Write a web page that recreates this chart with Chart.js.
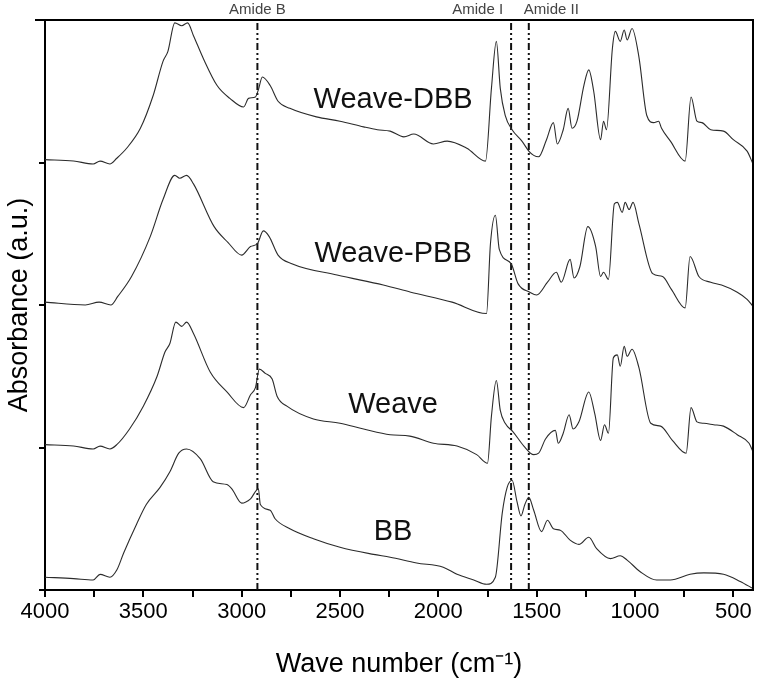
<!DOCTYPE html>
<html>
<head>
<meta charset="utf-8">
<script src="https://cdn.jsdelivr.net/npm/chart.js@4.4.1/dist/chart.umd.min.js"></script>
<style>
  html, body { margin: 0; padding: 0; background: #fff; }
</style>
</head>
<body>
<canvas id="ftir" width="757" height="685"></canvas>
<script>
// spectra (stacked, arbitrary units)
const dbbWave = [4000,3855,3755,3720,3670,3635,3585,3515,3450,3400,3375,3340,3305,3275,3245,3195,3125,3060,2990,2965,2930,2915,2895,2855,2815,2755,2620,2500,2380,2310,2245,2175,2125,2025,1955,1855,1760,1730,1705,1685,1660,1625,1575,1540,1515,1490,1450,1415,1395,1365,1340,1320,1295,1260,1235,1210,1175,1160,1145,1115,1100,1075,1055,1040,1015,980,940,905,880,865,820,745,715,685,660,615,550,500,430,400];
const dbbAbs = [3.02,3.01,2.99,3.01,2.99,3.03,3.10,3.24,3.47,3.71,3.78,3.98,3.96,3.98,3.89,3.73,3.54,3.45,3.39,3.45,3.46,3.51,3.60,3.54,3.43,3.38,3.32,3.29,3.25,3.23,3.22,3.18,3.20,3.13,3.15,3.10,3.01,3.52,3.85,3.52,3.33,3.23,3.15,3.08,3.05,3.04,3.16,3.28,3.13,3.23,3.38,3.24,3.29,3.54,3.65,3.50,3.16,3.29,3.23,3.80,3.92,3.85,3.93,3.86,3.94,3.74,3.33,3.28,3.29,3.24,3.15,3.01,3.46,3.29,3.28,3.23,3.22,3.16,3.08,2.99];

const pbbWave = [4000,3795,3725,3665,3630,3560,3465,3400,3340,3315,3280,3245,3140,3070,3000,2955,2920,2890,2860,2815,2745,2515,2280,2140,1930,1755,1735,1710,1690,1630,1595,1535,1500,1445,1400,1375,1330,1310,1280,1240,1200,1175,1160,1135,1105,1090,1065,1050,1030,1010,980,910,860,815,745,720,675,615,560,480,430,400];
const pbbAbs = [2.02,2.00,2.02,2.00,2.06,2.20,2.48,2.74,2.91,2.89,2.91,2.85,2.55,2.44,2.35,2.41,2.43,2.52,2.48,2.35,2.29,2.21,2.14,2.09,2.02,1.94,2.43,2.63,2.39,2.29,2.15,2.09,2.07,2.16,2.23,2.16,2.32,2.19,2.27,2.55,2.41,2.20,2.23,2.18,2.71,2.72,2.65,2.72,2.67,2.72,2.57,2.22,2.20,2.11,1.98,2.34,2.20,2.16,2.14,2.09,2.04,1.99];

const weaveWave = [4000,3855,3755,3720,3670,3635,3570,3500,3430,3390,3365,3335,3305,3280,3245,3160,3075,2990,2955,2930,2910,2880,2845,2820,2770,2635,2500,2380,2245,2145,2025,1905,1805,1750,1730,1705,1685,1660,1620,1565,1515,1490,1455,1405,1390,1365,1335,1315,1285,1235,1205,1175,1155,1135,1110,1090,1075,1055,1040,1015,980,920,870,810,740,715,685,650,600,550,480,420,400];
const weaveAbs = [1.02,1.01,0.99,1.01,0.99,1.02,1.13,1.29,1.50,1.67,1.73,1.88,1.85,1.88,1.80,1.53,1.39,1.28,1.37,1.42,1.55,1.52,1.48,1.36,1.29,1.20,1.17,1.13,1.09,1.08,1.03,1.01,0.95,0.89,1.22,1.47,1.26,1.17,1.11,1.01,0.95,0.96,1.06,1.12,1.03,1.10,1.23,1.13,1.18,1.39,1.24,1.05,1.16,1.10,1.63,1.65,1.57,1.71,1.64,1.69,1.56,1.17,1.15,1.05,0.96,1.28,1.18,1.17,1.16,1.15,1.09,1.03,0.97];

const bbWave = [4000,3855,3755,3720,3670,3635,3600,3535,3485,3415,3365,3320,3280,3210,3145,3075,3050,3000,2955,2915,2905,2855,2830,2755,2635,2500,2330,2245,2110,1975,1905,1820,1755,1710,1675,1650,1625,1600,1580,1560,1540,1515,1475,1445,1415,1380,1330,1285,1235,1195,1125,1075,1040,975,890,820,720,650,550,465,400];
const bbAbs = [0.09,0.08,0.07,0.11,0.09,0.14,0.26,0.46,0.60,0.72,0.83,0.96,0.99,0.92,0.76,0.74,0.71,0.61,0.64,0.71,0.60,0.56,0.50,0.43,0.36,0.30,0.25,0.23,0.19,0.16,0.11,0.07,0.04,0.09,0.54,0.72,0.77,0.62,0.52,0.60,0.65,0.56,0.41,0.49,0.43,0.42,0.35,0.32,0.37,0.29,0.22,0.24,0.21,0.13,0.07,0.07,0.11,0.12,0.11,0.06,0.01];

const seriesNames = ['Weave-DBB', 'Weave-PBB', 'Weave', 'BB'];
const amidePeaks = [2920, 1630, 1540];
const amideNames = ['Amide B', 'Amide I', 'Amide II'];
const xTickValues = [4000, 3750, 3500, 3250, 3000, 2750, 2500, 2250, 2000, 1750, 1500, 1250, 1000, 750, 500];

// where the series names sit (wave number, absorbance at baseline)
const nameX = 2230;
const nameY = [3.38, 2.30, 1.24, 0.35];

function pts(w, a) {
    return w.map((v, i) => ({ x: v, y: a[i] }));
}

const spectra = [[dbbWave, dbbAbs], [pbbWave, pbbAbs], [weaveWave, weaveAbs], [bbWave, bbAbs]];

const datasets = spectra.map((s, i) => ({
    label: seriesNames[i],
    data: pts(s[0], s[1]),
    borderColor: '#2b2b2b',
    borderWidth: 1.1,
    pointRadius: 0,
    cubicInterpolationMode: 'monotone'
}));

amidePeaks.forEach((p, i) => {
    datasets.push({
        label: amideNames[i],
        data: [{ x: p, y: 0 }, { x: p, y: 4 }],
        borderColor: '#111',
        borderWidth: 2,
        borderDash: [7, 3, 2, 3, 2, 3],
        pointRadius: 0
    });
});

const annotate = {
    id: 'annotate',
    afterDraw(chart) {
        const ctx = chart.ctx;
        const xs = chart.scales.x, ys = chart.scales.y;
        const a = chart.chartArea;
        ctx.save();
        // box top and right
        ctx.strokeStyle = '#000';
        ctx.lineWidth = 2;
        ctx.beginPath();
        ctx.moveTo(a.left - 10, a.top);
        ctx.lineTo(a.right, a.top);
        ctx.lineTo(a.right, a.bottom);
        ctx.stroke();

        // amide labels above the plot
        ctx.fillStyle = '#444';
        ctx.font = '15px "Liberation Sans", Arial, sans-serif';
        ctx.textBaseline = 'middle';
        const px = amidePeaks.map(p => xs.getPixelForValue(p));
        ctx.textAlign = 'center';
        ctx.fillText(amideNames[0], px[0], 10);
        ctx.textAlign = 'right';
        ctx.fillText(amideNames[1], px[1] - 8, 10);
        ctx.textAlign = 'left';
        ctx.fillText(amideNames[2], px[2] - 5, 10);

        // series names
        ctx.fillStyle = '#111';
        ctx.font = '29px "Liberation Sans", Arial, sans-serif';
        ctx.textAlign = 'center';
        ctx.textBaseline = 'alphabetic';
        seriesNames.forEach((n, i) => {
            ctx.fillText(n, xs.getPixelForValue(nameX), ys.getPixelForValue(nameY[i]));
        });
        ctx.restore();
    }
};

new Chart(document.getElementById('ftir'), {
    type: 'line',
    data: { datasets: datasets },
    options: {
        responsive: false,
        devicePixelRatio: 1,
        animation: false,
        layout: { padding: { left: 0, right: 4, top: 20, bottom: 0 } },
        plugins: {
            legend: { display: false },
            tooltip: { enabled: false }
        },
        scales: {
            x: {
                type: 'linear',
                reverse: true,
                min: 400,
                max: 4000,
                afterBuildTicks: s => { s.ticks = xTickValues.map(v => ({ value: v })); },
                afterFit: s => { s.height = 95; },
                ticks: {
                    autoSkip: false,
                    maxRotation: 0,
                    padding: 2,
                    color: '#000',
                    font: { family: '"Liberation Sans", Arial, sans-serif', size: 22 },
                    callback: v => (v % 500 === 0 ? String(v) : '')
                },
                grid: { drawOnChartArea: false, drawTicks: true, tickLength: 7, color: '#000', lineWidth: 2 },
                border: { color: '#000', width: 2 },
                title: {
                    display: true,
                    text: 'Wave number (cm\u207B\u00B9)',
                    color: '#000',
                    padding: { top: 0, bottom: 4 },
                    font: { family: '"Liberation Sans", Arial, sans-serif', size: 27 }
                }
            },
            y: {
                min: 0,
                max: 4,
                afterFit: s => { s.width = 45; },
                ticks: { stepSize: 1, display: false },
                grid: { drawOnChartArea: false, drawTicks: true, tickLength: 6, color: '#000', lineWidth: 2 },
                border: { color: '#000', width: 2 },
                title: {
                    display: true,
                    text: 'Absorbance (a.u.)',
                    color: '#000',
                    padding: { top: 3, bottom: 0 },
                    font: { family: '"Liberation Sans", Arial, sans-serif', size: 27 }
                }
            }
        }
    },
    plugins: [annotate]
});
</script>
</body>
</html>
